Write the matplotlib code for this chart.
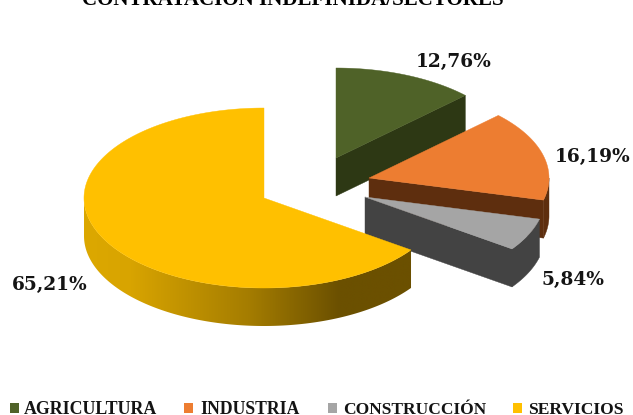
import numpy as np
import matplotlib
matplotlib.use("Agg")
import matplotlib.pyplot as plt
from matplotlib.patches import Polygon, Rectangle
from matplotlib.colors import LinearSegmentedColormap

title = "CONTRATACIÓN INDEFINIDA/SECTORES"
categories = ["AGRICULTURA", "INDUSTRIA", "CONSTRUCCIÓN", "SERVICIOS"]
values = [12.76, 16.19, 5.84, 65.21]
labels = ["12,76%", "16,19%", "5,84%", "65,21%"]
top_colors = ["#4F6228", "#ED7D31", "#A5A5A5", "#FFC000"]
wall_colors = ["#2D3814", "#5E2E0E", "#434343", "#6B5000"]
centers = [(336, 158), (369, 178), (365, 197), (264, 198)]
label_pos = [(454, 67), (593, 162), (573, 285), (50, 290)]
legend_sq = [10, 184, 328, 513]
legend_tx = [24, 200, 343, 528]
legend_fs = [12.9, 12.7, 12.5, 12.6]

RX, RY, DEPTH = 180, 90, 38
plt.rcParams['font.family'] = ['Liberation Serif', 'DejaVu Serif']

fig = plt.figure(figsize=(6.33, 4.15), dpi=100)
ax = fig.add_axes([0, 0, 1, 1])

def pt(c, a, dz=0):
    return (c[0] + RX*np.sin(a), c[1] - RY*np.cos(a) + dz)

def arc(c, a0, a1, dz=0):
    t = np.linspace(a0, a1, 300)
    return np.column_stack([c[0] + RX*np.sin(t), c[1] - RY*np.cos(t) + dz])

fracs = np.array(values) / sum(values) * 2*np.pi
starts = np.concatenate([[0], np.cumsum(fracs)[:-1]])

rim_cmap = LinearSegmentedColormap.from_list("rim", [
    (0.0, "#DCA800"), (0.14, "#D8A400"), (0.5, "#A57D00"),
    (0.78, "#6B5000"), (1.0, "#6B5000")])

for i in range(4):
    c = centers[i]
    a0, a1 = starts[i], starts[i] + fracs[i]
    z = i + 1
    # rim wall, only the part facing the viewer
    lo, hi = max(a0, np.pi/2), min(a1, 3*np.pi/2)
    if hi > lo:
        p = np.vstack([arc(c, lo, hi), arc(c, lo, hi, DEPTH)[::-1]])
        if i == 3:
            x0, x1 = p[:, 0].min(), p[:, 0].max()
            y0, y1 = p[:, 1].min(), p[:, 1].max()
            grad = np.linspace(0, 1, 400).reshape(1, -1)
            im = ax.imshow(grad, cmap=rim_cmap, extent=(x0, x1, y1, y0),
                           aspect='auto', zorder=z, interpolation='bilinear')
            clip = Polygon(p, closed=True, transform=ax.transData, fc='none', ec='none')
            ax.add_patch(clip)
            im.set_clip_path(clip)
        else:
            ax.add_patch(Polygon(p, closed=True, fc=wall_colors[i], ec=wall_colors[i], lw=0.3, zorder=z))
    # front radial wall
    if i in (0, 1, 2):
        p = [c, pt(c, a1), pt(c, a1, DEPTH), (c[0], c[1] + DEPTH)]
        ax.add_patch(Polygon(p, closed=True, fc=wall_colors[i], ec=wall_colors[i], lw=0.3, zorder=z))
    # top face
    p = np.vstack([[c], arc(c, a0, a1)])
    ax.add_patch(Polygon(p, closed=True, fc=top_colors[i], ec=top_colors[i], lw=0.3, zorder=z + 0.5))

ax.set_xlim(0, 633)
ax.set_ylim(415, 0)
ax.axis('off')

for s, (x, y) in zip(labels, label_pos):
    ax.text(x, y, s, ha='center', va='baseline', fontsize=13.4, fontweight='bold',
            family='DejaVu Serif', color='#141414', zorder=10)

ax.text(292.5, 5, title, ha='center', va='baseline', fontsize=15.1, fontweight='bold', color='#000000')

for x, xt, name, col, fs in zip(legend_sq, legend_tx, categories, top_colors, legend_fs):
    ax.add_patch(Rectangle((x, 403), 9, 10, fc=col, ec='none'))
    ax.text(xt, 414, name, ha='left', va='baseline', fontsize=fs, fontweight='bold', color='#141414')

fig.savefig("out.png", dpi=100)
